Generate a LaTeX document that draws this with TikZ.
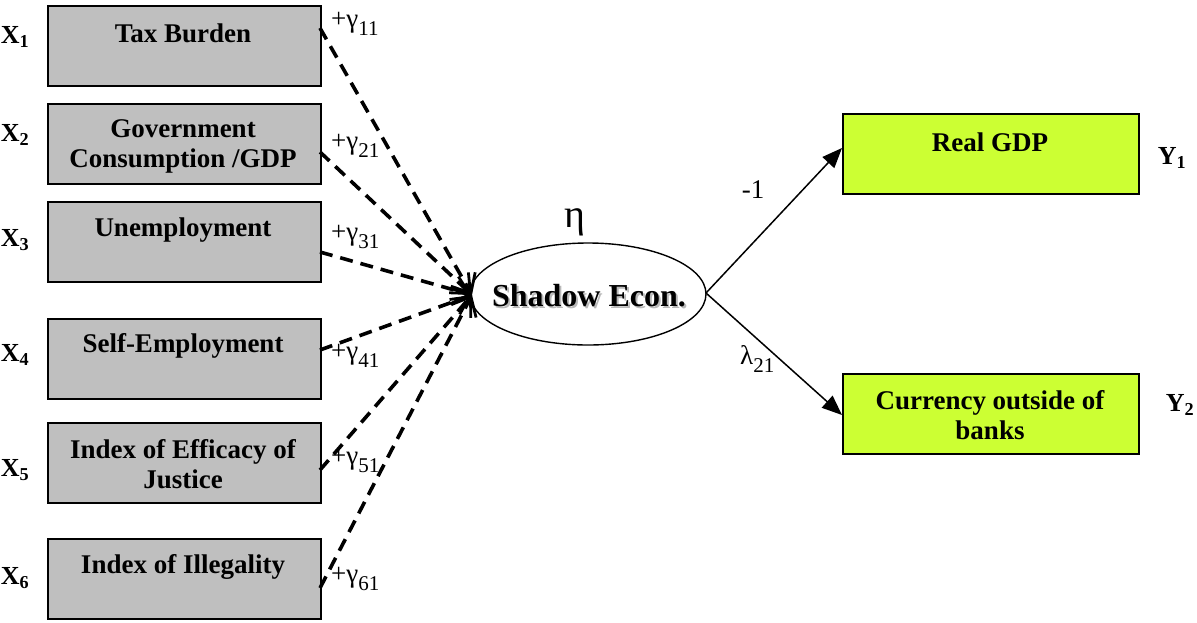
\documentclass[tikz,border=0pt]{standalone}
\usepackage{fontspec}
\setmainfont{Liberation Serif}
\usetikzlibrary{arrows.meta,shapes.geometric}
\newcommand{\gsub}[1]{\raisebox{-0.28em}{\fontsize{21}{24}\selectfont #1}}
\begin{document}
\begin{tikzpicture}[x=1pt,y=-1pt,
  xbox/.style={draw=black,line width=1.6pt,fill=gray!50,minimum width=273pt,minimum height=80pt,anchor=north west,inner sep=0pt},
  ybox/.style={draw=black,line width=1.6pt,fill={rgb,255:red,204;green,255;blue,51},minimum width=296pt,minimum height=80pt,anchor=north west,inner sep=0pt},
  btext/.style={font=\fontsize{27}{30}\selectfont\bfseries,align=center,inner sep=0pt},
  vlabel/.style={font=\fontsize{26}{30}\selectfont\bfseries,inner sep=0pt},
  glabel/.style={font=\fontsize{27}{30}\selectfont,inner sep=0pt,anchor=west},
  dasharrow/.style={line width=3.6pt,dash pattern=on 13pt off 8pt,-{Straight Barb[length=16pt,width=28pt,line width=2.8pt]}},
  solidarrow/.style={line width=1.5pt,-{Triangle[length=20pt,width=16pt]}}
]
\useasboundingbox (0,0) rectangle (1197,622);
% X boxes
\node[xbox] (b1) at (47,5) {};
\node[xbox] (b2) at (47,103) {};
\node[xbox] (b3) at (47,201) {};
\node[xbox] (b4) at (47,318) {};
\node[xbox] (b5) at (47,422) {};
\node[xbox] (b6) at (47,538) {};
\node[btext] (t1) at (183,33) {Tax Burden};
\node[btext] (t2) at (183,146) {Government\\Consumption /GDP};
\node[btext] (t3) at (183,230) {Unemployment};
\node[btext] (t4) at (183,346) {Self-Employment};
\node[btext] (t5) at (183,464) {Index of Efficacy of\\Justice};
\node[btext] (t6) at (183,567) {Index of Illegality};
% X labels
\node[vlabel] (x1) at (15,37) {X\textsubscript{1}};
\node[vlabel] (x2) at (15,135) {X\textsubscript{2}};
\node[vlabel] (x3) at (15,240) {X\textsubscript{3}};
\node[vlabel] (x4) at (15,355) {X\textsubscript{4}};
\node[vlabel] (x5) at (15,470) {X\textsubscript{5}};
\node[vlabel] (x6) at (15,578) {X\textsubscript{6}};
% ellipse
\node[draw,ellipse,line width=1.4pt,minimum width=236pt,minimum height=102pt,inner sep=0pt] (eta) at (588,294) {};
\node[font=\fontsize{32}{36}\selectfont\bfseries,text=gray!55] (shs) at (591,298) {Shadow Econ.};
\node[font=\fontsize{32}{36}\selectfont\bfseries] (sh) at (589,296) {Shadow Econ.};
\node[font=\fontsize{40}{44}\selectfont] (etal) at (575,222) {η};
\coordinate (tip) at (472,295);
\coordinate (s1) at (320,28);
\coordinate (s2) at (320,152);
\coordinate (s3) at (320,252);
\coordinate (s4) at (320,350);
\coordinate (s5) at (320,470);
\coordinate (s6) at (320,588);
\foreach \i in {1,...,6} {\draw[dasharrow] (s\i) -- (tip);}
% gamma labels
\node[glabel] (g1) at (331,24) {+γ\gsub{11}};
\node[glabel] (g2) at (331,146) {+γ\gsub{21}};
\node[glabel] (g3) at (331,237) {+γ\gsub{31}};
\node[glabel] (g4) at (331,356) {+γ\gsub{41}};
\node[glabel] (g5) at (331,461) {+γ\gsub{51}};
\node[glabel] (g6) at (331,579) {+γ\gsub{61}};
% Y boxes
\node[ybox] (r1) at (842,113) {};
\node[ybox] (r2) at (842,373) {};
\node[btext] (rt1) at (990,142) {Real GDP};
\node[btext] (rt2) at (990,415) {Currency outside of\\banks};
\node[vlabel] (y1) at (1172,158) {Y\textsubscript{1}};
\node[vlabel] (y2) at (1180,405) {Y\textsubscript{2}};
\coordinate (e) at (706,293);
\draw[solidarrow] (e) -- (r1.west |- 0,148);
\draw[solidarrow] (e) -- (r2.west |- 0,415);
\node[font=\fontsize{27}{30}\selectfont] (m1) at (753,190) {-1};
\node[glabel] (l21) at (740,359) {λ\gsub{21}};
\end{tikzpicture}
\end{document}
